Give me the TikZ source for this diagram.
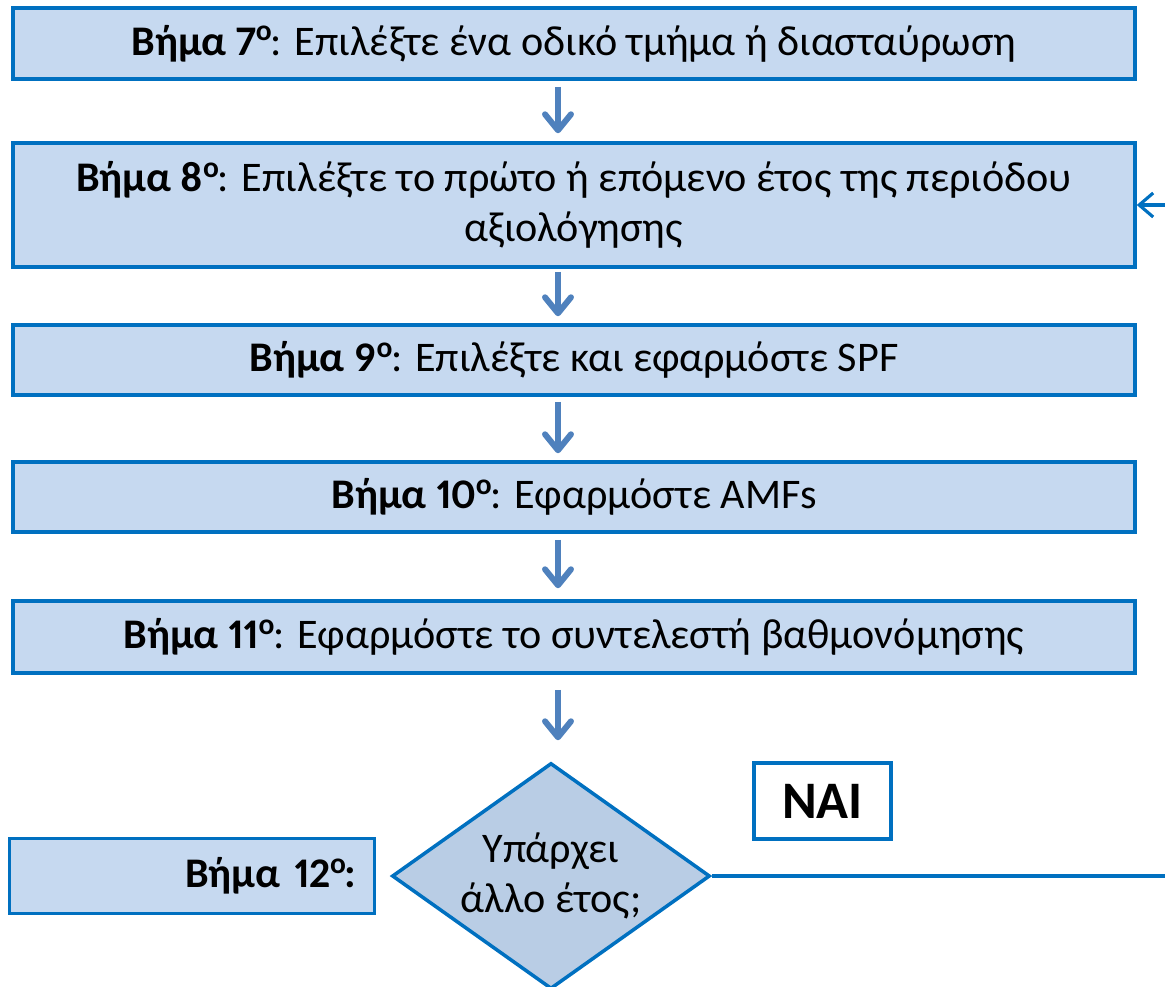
\documentclass[tikz,border=0pt]{standalone}
\usepackage{fontspec}
\setmainfont{Carlito}[Numbers=Proportional]
\usepackage{tikz}
\usetikzlibrary{shapes.geometric, arrows.meta, positioning}

\definecolor{stepfill}{RGB}{198,217,240}
\definecolor{stepline}{RGB}{0,112,192}
\definecolor{decfill}{RGB}{185,205,229}
\definecolor{arrowblue}{RGB}{79,129,189}

\newcommand{\ordsup}[1]{\raisebox{0.7ex}{\fontsize{8.4}{9}\selectfont #1}\kern-0.03em}

\begin{document}
\begin{tikzpicture}[
    stepbox/.style={rectangle, draw=stepline, line width=1pt, fill=stepfill, minimum width=11.22cm, minimum height=0.71cm, align=center, inner sep=2pt, font=\fontsize{12}{14.2}\selectfont},
    decbox/.style={diamond, aspect=1.41, draw=stepline, line width=1pt, fill=decfill, minimum width=3.18cm, minimum height=2.26cm, inner sep=-3pt, align=center, font=\fontsize{12}{14.2}\selectfont},
    naibox/.style={rectangle, draw=stepline, line width=0.9pt, fill=white, minimum width=1.37cm, minimum height=0.76cm, font=\fontsize{15}{18}\selectfont\bfseries},
    arr/.style={-{Straight Barb[length=1.6mm, width=2.6mm, line join=round, line cap=round]}, line width=1.7pt, draw=arrowblue},
    backarr/.style={-{Straight Barb[length=1.4mm, width=2.4mm]}, line width=0.9pt, draw=stepline},
    loopline/.style={line width=0.9pt, draw=stepline}
]
\useasboundingbox (0,0) rectangle (11.65,-9.87);

% Steps
\node[stepbox] (box7) at (5.74,-0.435) {\textbf{Βήμα 7\ordsup{ο}}: Επιλέξτε ένα οδικό τμήμα ή διασταύρωση};
\node[stepbox, minimum height=1.24cm] (box8) at (5.74,-2.05) {\textbf{Βήμα 8\ordsup{ο}}: Επιλέξτε το πρώτο ή επόμενο έτος της περιόδου\\αξιολόγησης};
\node[stepbox, minimum height=0.70cm] (box9) at (5.74,-3.60) {\textbf{Βήμα 9\ordsup{ο}}: Επιλέξτε και εφαρμόστε SPF};
\node[stepbox, minimum height=0.70cm] (box10) at (5.74,-4.97) {\textbf{Βήμα 10\ordsup{ο}}: Εφαρμόστε AMFs};
\node[stepbox, minimum height=0.72cm] (box11) at (5.74,-6.37) {\textbf{Βήμα 11\ordsup{ο}}: Εφαρμόστε το συντελεστή βαθμονόμησης};

% Decision
\node[decbox] (dec) at (5.51,-8.76) {Υπάρχει\\άλλο έτος;};
\node[stepbox, minimum width=3.65cm, minimum height=0.75cm, text width=3.29cm, align=right, left=0.14cm of dec] (box12) {\textbf{Βήμα 12\ordsup{ο}:}};
\node[naibox] (nai) at (8.225,-8.01) {NAI};

% Arrows
\draw[arr, shorten <=0.06cm, shorten >=0.08cm] ([xshift=-0.16cm]box7.south) -- ([xshift=-0.16cm]box8.north);
\draw[arr, shorten <=0.03cm, shorten >=0.07cm] ([xshift=-0.16cm]box8.south) -- ([xshift=-0.16cm]box9.north);
\draw[arr, shorten <=0.05cm, shorten >=0.07cm] ([xshift=-0.16cm]box9.south) -- ([xshift=-0.16cm]box10.north);
\draw[arr, shorten <=0.06cm, shorten >=0.11cm] ([xshift=-0.16cm]box10.south) -- ([xshift=-0.16cm]box11.north);
\draw[arr, shorten <=0.15cm, shorten >=0.21cm] ([xshift=-0.16cm]box11.south) -- ([xshift=0.07cm]dec.north);

% Loop back
\coordinate (loopout) at (11.65,-8.76);
\coordinate (loopin) at (11.65,-2.05);
\draw[loopline] (dec.east) -- (dec.east -| loopout);
\draw[backarr] (loopin) -- (box8.east);
\end{tikzpicture}
\end{document}
